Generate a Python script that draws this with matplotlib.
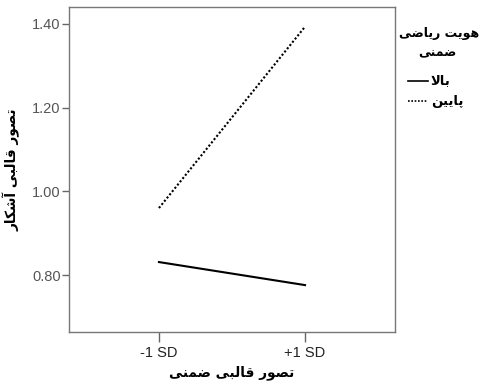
import matplotlib
matplotlib.use("Agg")
import matplotlib.pyplot as plt
from matplotlib.lines import Line2D

# ---- data ----
x_labels = ["-1 SD", "+1 SD"]
high_vals = [0.831, 0.776]   # بالا (solid)
low_vals = [0.960, 1.393]    # پایین (dotted)
y_ticks = [0.80, 1.00, 1.20, 1.40]
y_tick_labels = ["0.80", "1.00", "1.20", "1.40"]

x_title = "تصور قالبی ضمنی"
y_title = "تصور قالبی آشکار"
legend_title = ["هویت ریاضی", "ضمنی"]
legend_labels = ["بالا", "پایین"]

# ---- minimal Arabic/Persian shaping (matplotlib has no complex text layout) ----
FORMS = {
    'ت': ('\uFE95', '\uFE96', '\uFE97', '\uFE98'),
    'ص': ('\uFEB9', '\uFEBA', '\uFEBB', '\uFEBC'),
    'و': ('\uFEED', '\uFEEE', None, None),
    'ر': ('\uFEAD', '\uFEAE', None, None),
    'ق': ('\uFED5', '\uFED6', '\uFED7', '\uFED8'),
    'ا': ('\uFE8D', '\uFE8E', None, None),
    'ل': ('\uFEDD', '\uFEDE', '\uFEDF', '\uFEE0'),
    'ب': ('\uFE8F', '\uFE90', '\uFE91', '\uFE92'),
    'ی': ('\uFBFC', '\uFBFD', '\uFBFE', '\uFBFF'),
    'آ': ('\uFE81', '\uFE82', None, None),
    'ش': ('\uFEB5', '\uFEB6', '\uFEB7', '\uFEB8'),
    'ک': ('\uFB8E', '\uFB8F', '\uFB90', '\uFB91'),
    'ض': ('\uFEBD', '\uFEBE', '\uFEBF', '\uFEC0'),
    'م': ('\uFEE1', '\uFEE2', '\uFEE3', '\uFEE4'),
    'ن': ('\uFEE5', '\uFEE6', '\uFEE7', '\uFEE8'),
    'ه': ('\uFEE9', '\uFEEA', '\uFEEB', '\uFEEC'),
    'پ': ('\uFB56', '\uFB57', '\uFB58', '\uFB59'),
}


def joins_left(ch):
    return ch in FORMS and FORMS[ch][2] is not None


def shape(text):
    chars = list(text)
    out = []
    i = 0
    n = len(chars)
    while i < n:
        ch = chars[i]
        if ch not in FORMS:
            out.append(ch)
            i += 1
            continue
        prev = chars[i - 1] if i > 0 else None
        prev_joins = prev is not None and joins_left(prev)
        if ch == 'ل' and i + 1 < n and chars[i + 1] == 'ا':
            out.append('\uFEFC' if prev_joins else '\uFEFB')
            i += 2
            continue
        nxt = chars[i + 1] if i + 1 < n else None
        next_joins = nxt is not None and nxt in FORMS and joins_left(ch)
        iso, fin, ini, med = FORMS[ch]
        if prev_joins and next_joins:
            out.append(med)
        elif prev_joins:
            out.append(fin)
        elif next_joins:
            out.append(ini)
        else:
            out.append(iso)
        i += 1
    return ''.join(reversed(out))


fa_font = dict(family=['DejaVu Sans'], fontweight='bold')

fig = plt.figure(figsize=(4.95, 3.89), dpi=100)
ax = fig.add_axes([0.1394, 0.1465, 0.6586, 0.8355])

xpos = list(range(len(x_labels)))
ax.plot(xpos, high_vals, color='black', lw=1.5, linestyle='-')
ax.plot(xpos, low_vals, color='black', lw=1.5, linestyle=(0, (1, 1)))

ax.set_xlim(-0.616, 1.616)
ax.set_ylim(0.664, 1.44)
ax.set_xticks(xpos)
ax.set_xticklabels(x_labels, fontsize=10.5, family='Liberation Sans', color='#222222')
ax.set_yticks(y_ticks)
ax.set_yticklabels(y_tick_labels, fontsize=10.5, family='Liberation Sans', color='#555555')
ax.tick_params(axis='y', direction='out', length=5, width=1, color='#666666', pad=1)
ax.tick_params(axis='x', direction='out', length=7, width=1, color='#666666', pad=3)
for s in ax.spines.values():
    s.set_color('#777777')
    s.set_linewidth(1)

ax.set_xlabel(shape(x_title), fontsize=9.8, labelpad=4, **fa_font)
ax.set_ylabel(shape(y_title), fontsize=9.8, labelpad=8, **fa_font)

# legend (manual, outside axes on the right)
fig.text(439 / 495, 1 - 33 / 389, shape(legend_title[0]), ha='center', va='center', fontsize=9, **fa_font)
fig.text(437 / 495, 1 - 53 / 389, shape(legend_title[1]), ha='center', va='center', fontsize=9, **fa_font)
styles = ['-', (0, (1, 1))]
ys = [81, 101]
for lab, st, yy in zip(legend_labels, styles, ys):
    yf = 1 - yy / 389
    fig.text(431 / 495, yf, shape(lab), ha='left', va='center', fontsize=9.5, **fa_font)
    fig.add_artist(Line2D([408 / 495, 428 / 495], [yf, yf], transform=fig.transFigure,
                          color='black', lw=1.2, linestyle=st))

fig.savefig('out.png', dpi=100)
